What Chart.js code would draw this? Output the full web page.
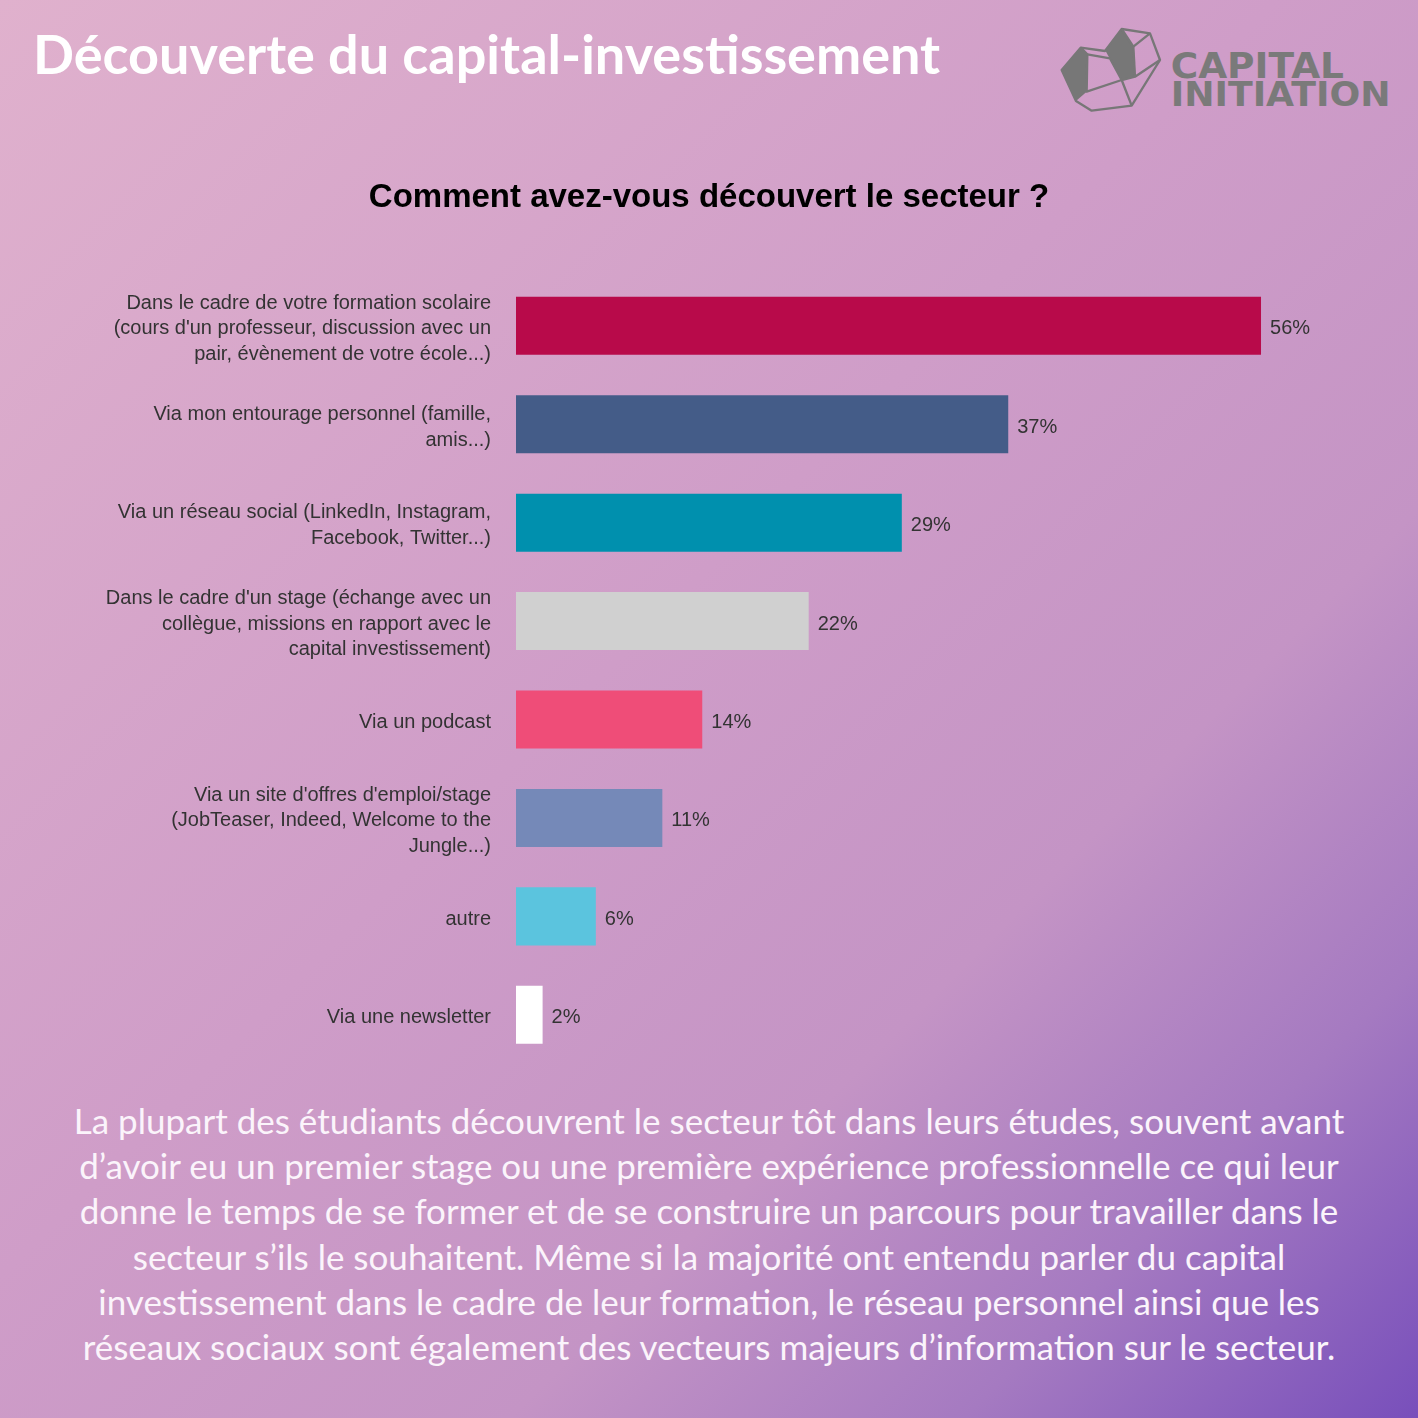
<!DOCTYPE html>
<html lang="fr">
<head>
<meta charset="utf-8">
<script src="https://cdn.jsdelivr.net/npm/chart.js@4.4.1/dist/chart.umd.min.js"></script>
<style>
  html, body { margin: 0; padding: 0; }
  body {
    width: 1418px; height: 1418px; position: relative; overflow: hidden;
    background: linear-gradient(135deg, #e0b1cd 0%, #cf9dc8 45%, #c494c5 68%, #a57ac1 84%, #784fbb 100%);
  }
  .title {
    position: absolute; left: 33px; top: 19px;
    font-family: Lato, sans-serif; font-weight: 700; font-size: 54px; line-height: 70px;
    color: #ffffff; white-space: nowrap;
  }
  .logo { position: absolute; left: 1050px; top: 15px; width: 360px; height: 110px; }
  .chart-box { position: absolute; left: 0; top: 150px; width: 1418px; height: 930px; }
  .note {
    position: absolute; left: 0; width: 1418px; top: 1098px;
    font-family: Lato, sans-serif; font-size: 35px; line-height: 45.2px;
    color: #fbf4fb; text-align: center; white-space: nowrap;
  }
</style>
</head>
<body>
<div class="title">Découverte du capital-investissement</div>

<svg class="logo" viewBox="0 0 1080 330">
  <g fill="#777777">
    <polygon points="35,165 92,98 112,118 110,230 78,258"/>
    <polygon points="165,105 215,45 250,95 255,185 215,195"/>
  </g>
  <g fill="none" stroke="#777777" stroke-width="7" stroke-linejoin="round">
    <path d="M35,165 L92,98 L165,108 L215,42 L300,55 L330,135 L245,272 L125,287 L78,258 Z"/>
    <path d="M92,98 L112,118 L110,230 L215,195 L255,185 L330,135"/>
    <path d="M215,42 L250,95 L300,55"/>
    <path d="M250,95 L255,185"/>
    <path d="M112,118 L180,130 L215,195 L245,272"/>
  </g>
  <g fill="#7a7a7a" font-family="'DejaVu Sans', sans-serif" font-weight="bold">
    <text x="362" y="190" font-size="104" textLength="520" lengthAdjust="spacingAndGlyphs">CAPITAL</text>
    <text x="362" y="273" font-size="100" textLength="660" lengthAdjust="spacingAndGlyphs">INITIATION</text>
  </g>
</svg>

<div class="chart-box"><canvas id="chart"></canvas></div>

<div class="note">
La plupart des étudiants découvrent le secteur tôt dans leurs études, souvent avant<br>
d’avoir eu un premier stage ou une première expérience professionnelle ce qui leur<br>
donne le temps de se former et de se construire un parcours pour travailler dans le<br>
secteur s’ils le souhaitent. Même si la majorité ont entendu parler du capital<br>
investissement dans le cadre de leur formation, le réseau personnel ainsi que les<br>
réseaux sociaux sont également des vecteurs majeurs d’information sur le secteur.
</div>

<script>
// ===== Data =====
const chartTitle = 'Comment avez-vous découvert le secteur ?';

const categories = [
  ['Dans le cadre de votre formation scolaire', "(cours d'un professeur, discussion avec un", 'pair, évènement de votre école...)'],
  ['Via mon entourage personnel (famille,', 'amis...)'],
  ['Via un réseau social (LinkedIn, Instagram,', 'Facebook, Twitter...)'],
  ["Dans le cadre d'un stage (échange avec un", 'collègue, missions en rapport avec le', 'capital investissement)'],
  ['Via un podcast'],
  ["Via un site d'offres d'emploi/stage", '(JobTeaser, Indeed, Welcome to the', 'Jungle...)'],
  ['autre'],
  ['Via une newsletter'],
];

const shares = [56, 37, 29, 22, 14, 11, 6, 2];

const barColors = ['#b80a4a', '#445c88', '#0090ae', '#d0d0d0', '#ef4d78', '#7589b8', '#5bc4de', '#ffffff'];

// ── Value labels drawn at the end of each bar ──────────────────────────────
const valueLabels = {
  id: 'valueLabels',
  afterDatasetsDraw(chart) {
    const ctx = chart.ctx;
    const meta = chart.getDatasetMeta(0);
    ctx.save();
    ctx.font = '20px "Liberation Sans", Arial, sans-serif';
    ctx.fillStyle = '#333333';
    ctx.textAlign = 'left';
    ctx.textBaseline = 'middle';
    meta.data.forEach((bar, i) => {
      ctx.fillText(shares[i] + '%', bar.x + 9, bar.y + 3);
    });
    ctx.restore();
  },
};

new Chart(document.getElementById('chart'), {
  type: 'bar',
  data: {
    labels: categories,
    datasets: [{
      data: shares,
      backgroundColor: barColors,
      borderWidth: 0,
      barPercentage: 0.59,
      categoryPercentage: 1,
    }],
  },
  options: {
    indexAxis: 'y',
    responsive: true,
    maintainAspectRatio: false,
    animation: false,
    layout: { autoPadding: false, padding: { top: 0, left: 0, right: 0, bottom: 16 } },
    plugins: {
      legend: { display: false },
      tooltip: { enabled: false },
      title: {
        display: true,
        text: chartTitle,
        color: '#000000',
        font: { family: '"Liberation Sans", Arial, sans-serif', size: 33, weight: 'bold', lineHeight: 1.2 },
        padding: { top: 28, bottom: 59 },
      },
    },
    scales: {
      // right edge of the plot sits at the canvas edge, so the title centres on the page
      x: { display: false, min: 0, max: 67.8 },
      y: {
        grid: { display: false, drawTicks: false },
        border: { display: false },
        ticks: {
          color: '#333333',
          padding: 25,
          labelOffset: 3,
          font: { family: '"Liberation Sans", Arial, sans-serif', size: 20, lineHeight: 1.28 },
        },
        afterFit(scale) {
          scale.width = 516;
          // multi-line labels would otherwise shrink the plot from the bottom
          scale.paddingTop = 0;
          scale.paddingBottom = 0;
        },
      },
    },
  },
  plugins: [valueLabels],
});
</script>
</body>
</html>
